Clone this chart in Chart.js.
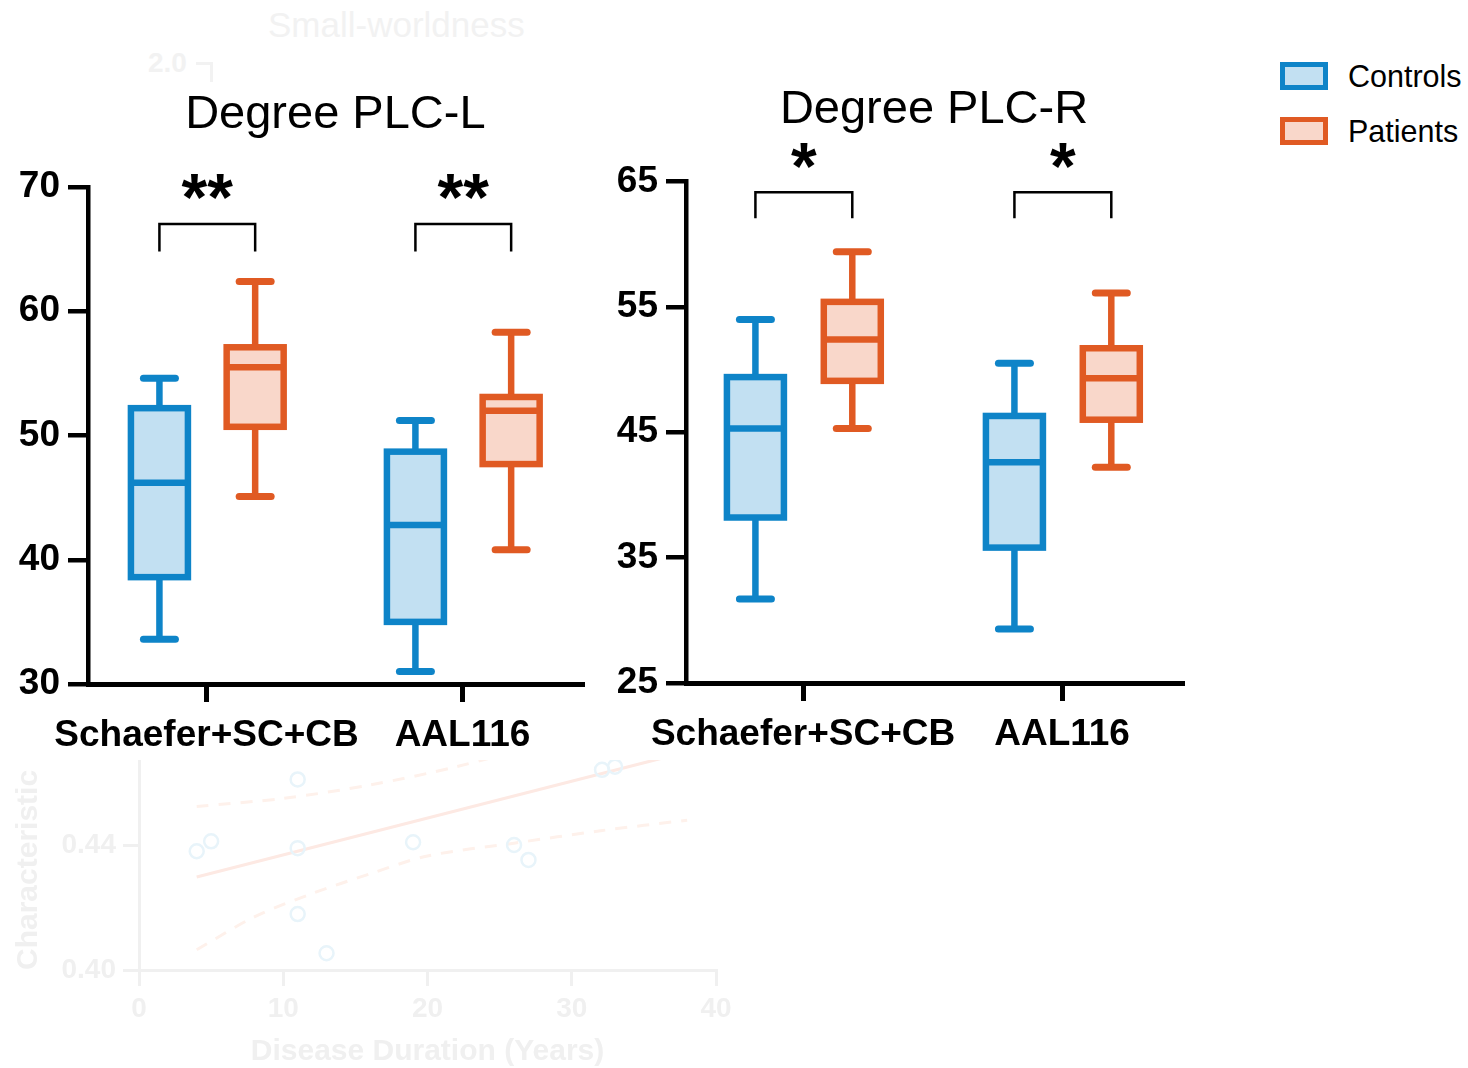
<!DOCTYPE html>
<html>
<head>
<meta charset="utf-8">
<script src="https://cdn.jsdelivr.net/npm/chart.js@4.4.1/dist/chart.umd.min.js"></script>
<style>
  body { margin: 0; background: #fff; width: 1468px; height: 1068px; position: relative; overflow: hidden;
         font-family: "Liberation Sans", Arial, Helvetica, sans-serif; }
  .abs { position: absolute; }
  .ghostTxt { position: absolute; color: #f2f2f2; white-space: nowrap; }
  .leg { position: absolute; left: 1280px; height: 36px; line-height: 36px; font-size: 30.5px; color: #000; white-space: nowrap; }
  .leg span { position: absolute; left: 0; width: 48px; height: 28px; box-sizing: border-box; border: 5px solid; }
  .leg b { position: absolute; left: 68px; top: 0; font-weight: normal; }
</style>
</head>
<body>

<!-- faint panel from underneath -->
<div class="ghostTxt" style="left:268px; top:4px; font-size:35px; line-height:42px;">Small-worldness</div>
<div class="ghostTxt" style="left:148px; top:47px; font-size:28px; line-height:32px; font-weight:bold;">2.0</div>
<div class="abs" style="left:196px; top:62px; width:14px; height:17px; border-top:3px solid #f2f2f2; border-right:3px solid #f2f2f2;"></div>
<div class="abs" style="left:0; top:760px; width:760px; height:308px; overflow:hidden;">
  <div class="abs" style="left:0; top:-60px; width:760px; height:368px;"><canvas id="ghost"></canvas></div>
</div>

<div class="abs" style="left:0; top:0; width:600px; height:770px;"><canvas id="plcL"></canvas></div>
<div class="abs" style="left:600px; top:0; width:600px; height:770px;"><canvas id="plcR"></canvas></div>

<div class="leg" style="top:58px;"><span style="top:4px; border-color:#0E84C8; background:#C2E0F2;"></span><b>Controls</b></div>
<div class="leg" style="top:112.5px;"><span style="top:4px; border-color:#E05A23; background:#F9D7CA;"></span><b>Patients</b></div>

<script>
const categories = ["Schaefer+SC+CB", "AAL116"];
const groups = ["Controls", "Patients"];

// [min, q1, median, q3, max] per category
const plcLControls = [[33.6, 38.6, 46.2, 52.2, 54.6], [31.0, 35.0, 42.8, 48.7, 51.2]];
const plcLPatients = [[45.1, 50.7, 55.5, 57.1, 62.4], [40.8, 47.7, 52.0, 53.1, 58.3]];
const plcRControls = [[31.7, 38.2, 45.3, 49.4, 54.0], [29.3, 35.8, 42.6, 46.3, 50.5]];
const plcRPatients = [[45.3, 49.1, 52.4, 55.4, 59.4], [42.2, 46.0, 49.3, 51.7, 56.1]];

const plcLTicks = [30, 40, 50, 60, 70];
const plcRTicks = [25, 35, 45, 55, 65];
const plcLSig = ["**", "**"];
const plcRSig = ["*", "*"];

// faint scatter underneath
const ghostYears = [4.0, 5.0, 11.0, 11.0, 11.0, 13.0, 19.0, 26.0, 27.0, 32.1, 33.0];
const ghostValues = [0.4382, 0.4414, 0.4613, 0.4392, 0.4180, 0.4054, 0.4411, 0.4402, 0.4354, 0.4644, 0.4654];
const ghostFitX = [4, 38];
const ghostFitY = [0.4299, 0.4702];
const ghostUpX = [4, 10, 16, 22, 28, 38];
const ghostUpY = [0.4526, 0.4552, 0.4595, 0.4654, 0.4730, 0.4880];
const ghostLowX = [4, 8, 12, 16, 20, 26, 32, 38];
const ghostLowY = [0.4065, 0.4171, 0.4246, 0.4309, 0.4367, 0.4408, 0.4448, 0.4482];
const ghostXTicks = [0, 10, 20, 30, 40];
const ghostYTicks = [0.40, 0.44];

Chart.defaults.font.family = '"Liberation Sans", Arial, Helvetica, sans-serif';
Chart.defaults.color = "#000";

const colors = {
  Controls: { line: "#0E84C8", fill: "#C2E0F2" },
  Patients: { line: "#E05A23", fill: "#F9D7CA" }
};

// whiskers, outline and median on top of the floating bars
const boxPlot = {
  id: "boxPlot",
  afterDatasetsDraw(chart) {
    const ctx = chart.ctx, y = chart.scales.y;
    chart.data.datasets.forEach((ds, di) => {
      const meta = chart.getDatasetMeta(di);
      meta.data.forEach((bar, i) => {
        const [lo, q1, med, q3, hi] = ds.stats[i];
        const p = bar.getProps(["x", "width"], true);
        const x = p.x, half = p.width / 2;
        const py = v => y.getPixelForValue(v);
        const seg = (x1, y1, x2, y2) => { ctx.beginPath(); ctx.moveTo(x1, y1); ctx.lineTo(x2, y2); ctx.stroke(); };
        ctx.save();
        ctx.strokeStyle = ds.lineColor;
        ctx.lineWidth = 6.5;
        seg(x, py(q3), x, py(hi));
        seg(x, py(q1), x, py(lo));
        ctx.lineCap = "round";
        ctx.lineWidth = 7;
        seg(x - 16, py(hi), x + 16, py(hi));
        seg(x - 16, py(lo), x + 16, py(lo));
        ctx.lineCap = "butt";
        ctx.lineWidth = 6.5;
        ctx.strokeRect(x - half, py(q3), 2 * half, py(q1) - py(q3));
        seg(x - half, py(med), x + half, py(med));
        ctx.restore();
      });
    });
  },
  afterDraw(chart, args, opts) {
    if (!opts.labels) return;
    const ctx = chart.ctx, y = chart.scales.y;
    const a = chart.getDatasetMeta(0).data, b = chart.getDatasetMeta(1).data;
    const size = 66;
    ctx.save();
    ctx.strokeStyle = "#000";
    ctx.lineWidth = 2.5;
    ctx.fillStyle = "#000";
    ctx.font = "bold " + size + "px " + Chart.defaults.font.family;
    ctx.textAlign = "center";
    ctx.textBaseline = "alphabetic";
    opts.labels.forEach((lab, i) => {
      const x1 = a[i].x, x2 = b[i].x;
      const top = y.getPixelForValue(opts.top), leg = y.getPixelForValue(opts.leg);
      ctx.beginPath();
      ctx.moveTo(x1, leg); ctx.lineTo(x1, top); ctx.lineTo(x2, top); ctx.lineTo(x2, leg);
      ctx.stroke();
      ctx.fillText(lab, (x1 + x2) / 2, y.getPixelForValue(opts.star) + 0.47 * size);
    });
    ctx.restore();
  }
};

function boxChart(id, title, ctrl, pat, ticks, sig, geo) {
  const mk = (name, stats, off) => ({
    label: name,
    data: stats.map((s, i) => ({ x: i + off, y: [s[1], s[3]] })),
    stats: stats,
    lineColor: colors[name].line,
    backgroundColor: colors[name].fill,
    borderWidth: 0,
    barThickness: 57,
    grouped: false
  });
  return new Chart(document.getElementById(id), {
    type: "bar",
    data: { datasets: [mk(groups[0], ctrl, -0.184), mk(groups[1], pat, 0.19)] },
    plugins: [boxPlot],
    options: {
      responsive: true,
      maintainAspectRatio: false,
      animation: false,
      layout: { padding: { left: 0, right: geo.right, top: 0, bottom: 0 } },
      plugins: {
        legend: { display: false },
        tooltip: { enabled: false },
        title: {
          display: true, text: title, fullSize: false, color: "#000",
          font: { size: 47, weight: "normal", lineHeight: 1.2 },
          padding: { top: geo.titleTop, bottom: geo.titleBottom }
        },
        boxPlot: sig
      },
      scales: {
        x: {
          type: "linear", min: geo.xmin, max: geo.xmax, offset: false,
          afterBuildTicks: s => { s.ticks = categories.map((c, i) => ({ value: i })); },
          afterFit: s => { s.height = geo.xh; },
          ticks: {
            callback: v => categories[Math.round(v)],
            font: { size: 37, weight: "bold" }, color: "#000",
            padding: 11.5, maxRotation: 0, autoSkip: false
          },
          grid: { offset: false, drawOnChartArea: false, drawTicks: true, tickLength: 18, lineWidth: 5, color: "#000" },
          border: { display: true, width: 5, color: "#000" }
        },
        y: {
          min: ticks[0], max: ticks[ticks.length - 1],
          afterBuildTicks: s => { s.ticks = ticks.map(v => ({ value: v })); },
          afterFit: s => { s.width = geo.yw; },
          ticks: { font: { size: 37, weight: "bold" }, color: "#000", padding: 8 },
          grid: { drawOnChartArea: false, drawTicks: true, tickLength: 20, lineWidth: 4.5, color: "#000" },
          border: { display: true, width: 4.5, color: "#000" }
        }
      }
    }
  });
}

boxChart("plcL", "Degree PLC-L", plcLControls, plcLPatients, plcLTicks,
  { labels: plcLSig, top: 67.03, leg: 64.8, star: 69.86 },
  { right: 17.3, titleTop: 86.9, titleBottom: 43.7, xmin: -0.463, xmax: 1.4695, xh: 86, yw: 88 });

boxChart("plcR", "Degree PLC-R", plcRControls, plcRPatients, plcRTicks,
  { labels: plcRSig, top: 64.14, leg: 62.06, star: 66.88 },
  { right: 18, titleTop: 81.8, titleBottom: 43.3, xmin: -0.452, xmax: 1.463, xh: 87, yw: 86 });

// faint scatter chart underneath
const ghostInk = "#f0f0f0";
const pts = (xs, ys) => xs.map((x, i) => ({ x: x, y: ys[i] }));
new Chart(document.getElementById("ghost"), {
  type: "scatter",
  data: {
    datasets: [
      { data: pts(ghostYears, ghostValues), pointRadius: 7, pointBorderWidth: 2.5,
        pointBorderColor: "#e8f4fa", pointBackgroundColor: "rgba(0,0,0,0)" },
      { data: pts(ghostFitX, ghostFitY), showLine: true, borderColor: "#fde9e3", borderWidth: 3, pointRadius: 0 },
      { data: pts(ghostUpX, ghostUpY), showLine: true, borderColor: "#fef1eb", borderWidth: 3,
        borderDash: [12, 10], pointRadius: 0, tension: 0.3 },
      { data: pts(ghostLowX, ghostLowY), showLine: true, borderColor: "#fef1eb", borderWidth: 3,
        borderDash: [12, 10], pointRadius: 0, tension: 0.3 }
    ]
  },
  options: {
    responsive: true, maintainAspectRatio: false, animation: false,
    layout: { padding: { top: 18, right: 44, left: 0, bottom: 0 } },
    plugins: { legend: { display: false }, tooltip: { enabled: false } },
    scales: {
      x: {
        type: "linear", min: 0, max: 40,
        afterBuildTicks: s => { s.ticks = ghostXTicks.map(v => ({ value: v })); },
        afterFit: s => { s.height = 98; },
        ticks: { font: { size: 28, weight: "bold" }, color: ghostInk, padding: 6 },
        grid: { drawOnChartArea: false, tickLength: 16, lineWidth: 3, color: ghostInk },
        border: { width: 3, color: ghostInk },
        title: { display: true, text: "Disease Duration (Years)", color: ghostInk,
                 font: { size: 30, weight: "bold", lineHeight: 1 }, padding: 1 }
      },
      y: {
        min: 0.40, max: 0.4792,
        afterBuildTicks: s => { s.ticks = ghostYTicks.map(v => ({ value: v })); },
        afterFit: s => { s.width = 139; },
        ticks: { font: { size: 28, weight: "bold" }, color: ghostInk, padding: 7, callback: v => v.toFixed(2) },
        grid: { drawOnChartArea: false, tickLength: 16, lineWidth: 3, color: ghostInk },
        border: { width: 3, color: ghostInk },
        title: { display: true, text: "Characteristic", align: "start", color: ghostInk,
                 font: { size: 30, weight: "bold", lineHeight: 1.2 }, padding: { top: 11, bottom: 4 } }
      }
    }
  }
});
</script>
</body>
</html>
